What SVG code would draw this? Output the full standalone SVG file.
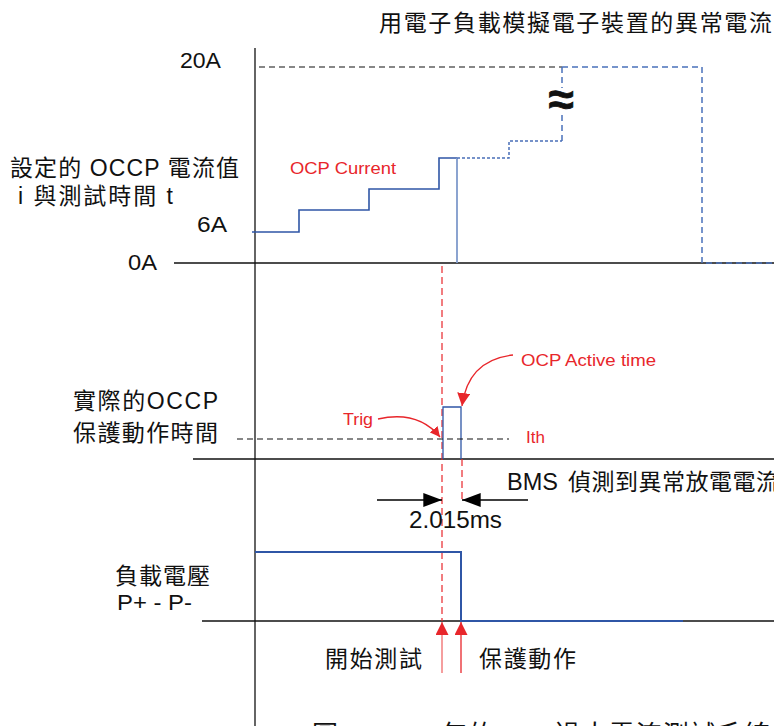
<svg xmlns="http://www.w3.org/2000/svg" width="774" height="726" viewBox="0 0 774 726">
<style>
.t{font-family:"Liberation Sans","Noto Sans CJK TC",sans-serif;fill:#111}
.r{font-family:"Liberation Sans","Noto Sans CJK TC",sans-serif;fill:#e8262b}
.ax{stroke:#111;stroke-width:1.3;fill:none}
.bl{stroke:#2f56a6;stroke-width:1.6;fill:none}
.bd{stroke:#4a72bb;stroke-width:1.5;fill:none;stroke-dasharray:6 4}
.bdot{stroke:#4a6fb8;stroke-width:1.5;fill:none;stroke-dasharray:3 2}
.kd{stroke:#111;stroke-width:1.2;fill:none;stroke-dasharray:6 4}
.rd{stroke:#e8262b;stroke-width:1.2;fill:none;stroke-dasharray:7 4}
.rl{stroke:#e8262b;stroke-width:1.3;fill:none}
</style>
<defs>
<marker id="ra" viewBox="0 0 10 10" refX="10" refY="5" markerWidth="10" markerHeight="10" markerUnits="userSpaceOnUse" orient="auto"><path d="M0,0 L10,5 L0,10 Z" fill="#e8262b"/></marker>
<marker id="rb" viewBox="0 0 12 12" refX="12" refY="6" markerWidth="13" markerHeight="13" markerUnits="userSpaceOnUse" orient="auto"><path d="M0,0 L12,6 L0,12 Z" fill="#e8262b"/></marker>
<marker id="ka" viewBox="0 0 16 12" refX="16" refY="6" markerWidth="22" markerHeight="14" markerUnits="userSpaceOnUse" orient="auto"><path d="M0,0 L16,6 L0,12 Z" fill="#000"/></marker>
</defs>
<rect width="774" height="726" fill="#fff"/>

<g id="connectors">
<line class="ax" x1="255" y1="48" x2="255" y2="726" stroke="#333"/>
<line class="ax" x1="174" y1="263" x2="774" y2="263" stroke="#333"/>
<line class="ax" x1="193" y1="459" x2="774" y2="459"/>
<line class="ax" x1="202" y1="621" x2="774" y2="621"/>
<line class="kd" x1="259" y1="67" x2="562" y2="67"/>
<path class="bd" d="M562,67 H702 V263 H774"/>
<path class="bl" d="M252,232 H299 V210 H369 V189 H439 V158 H457"/>
<line x1="457" y1="158" x2="457" y2="263" stroke="#7f9acb" stroke-width="1.8"/>
<path class="bdot" d="M457,158 H509 V141 H562"/>
<path class="bd" d="M562,141 V113"/>
<path class="bd" d="M562,67 V88"/>
<line class="rd" x1="442" y1="266" x2="442" y2="621"/>
<line class="rd" x1="462" y1="459" x2="462" y2="500"/>
<path d="M443,459 V407 H461 V459" stroke="#2f56a6" stroke-width="1.3" fill="none"/>
<line class="kd" x1="237" y1="439" x2="509" y2="439"/>
<path class="rl" d="M378,419 Q418,410 440,437" marker-end="url(#ra)"/>
<path class="rl" d="M513,355 Q468,360 462,406" marker-end="url(#rb)"/>
<line x1="377" y1="500" x2="442" y2="500" stroke="#000" stroke-width="1.3" marker-end="url(#ka)"/>
<line x1="528" y1="500" x2="462" y2="500" stroke="#000" stroke-width="1.3" marker-end="url(#ka)"/>
<path d="M255,552 H461 V621 H683" stroke="#2f56a6" stroke-width="2" fill="none"/>
<line x1="442" y1="673" x2="442" y2="622" stroke="#f06a6a" stroke-width="1.3" marker-end="url(#rb)"/>
<line x1="461" y1="673" x2="461" y2="622" stroke="#e8262b" stroke-width="1.3" marker-end="url(#rb)"/>
</g>

<g id="approx"><text class="t" x="561" y="115" font-size="46" font-weight="bold" text-anchor="middle" stroke="#111" stroke-width="0.8">≈</text></g>

<g id="title"><text class="t" x="379" y="31" font-size="23" textLength="393">用電子負載模擬電子裝置的異常電流</text></g>
<g id="label-set"><text class="t" x="10" y="176" font-size="23" textLength="229">設定的 OCCP 電流值</text>
<text class="t" x="18" y="204" font-size="23" textLength="155">i  與測試時間 t</text></g>
<g id="tick-20A"><text class="t" x="180" y="68" font-size="22" textLength="41" lengthAdjust="spacingAndGlyphs">20A</text></g>
<g id="tick-6A"><text class="t" x="197" y="232" font-size="22" textLength="30" lengthAdjust="spacingAndGlyphs">6A</text></g>
<g id="tick-0A"><text class="t" x="128" y="270" font-size="22" textLength="29" lengthAdjust="spacingAndGlyphs">0A</text></g>
<g id="ocp-current"><text class="r" x="290" y="174" font-size="17" textLength="106" lengthAdjust="spacingAndGlyphs">OCP Current</text></g>
<g id="trig"><text class="r" x="343" y="425" font-size="17" textLength="30" lengthAdjust="spacingAndGlyphs">Trig</text></g>
<g id="ocp-active"><text class="r" x="521" y="366" font-size="17" textLength="135" lengthAdjust="spacingAndGlyphs">OCP Active time</text></g>
<g id="ith"><text class="r" x="526" y="443" font-size="17">Ith</text></g>
<g id="label-actual"><text class="t" x="73" y="409" font-size="23" textLength="145">實際的OCCP</text>
<text class="t" x="73" y="441" font-size="23" textLength="145">保護動作時間</text></g>
<g id="bms"><text class="t" x="507" y="490" font-size="23"><tspan textLength="51" lengthAdjust="spacingAndGlyphs">BMS</tspan><tspan x="568" letter-spacing="0.5">偵測到異常放電電流</tspan></text></g>
<g id="dt"><text class="t" x="409" y="528" font-size="24" textLength="93" lengthAdjust="spacingAndGlyphs">2.015ms</text></g>
<g id="label-volt"><text class="t" x="115" y="584" font-size="23" textLength="95">負載電壓</text>
<text class="t" x="117" y="610" font-size="22" textLength="75" lengthAdjust="spacingAndGlyphs">P+ - P-</text></g>
<g id="start"><text class="t" x="325" y="667" font-size="23" textLength="97">開始測試</text></g>
<g id="protect"><text class="t" x="479" y="667" font-size="23" textLength="97">保護動作</text></g>
<g id="caption"><text class="t" x="312" y="744" font-size="26" letter-spacing="1">圖2、2011年的BMS過大電流測試系統</text></g>
</svg>
